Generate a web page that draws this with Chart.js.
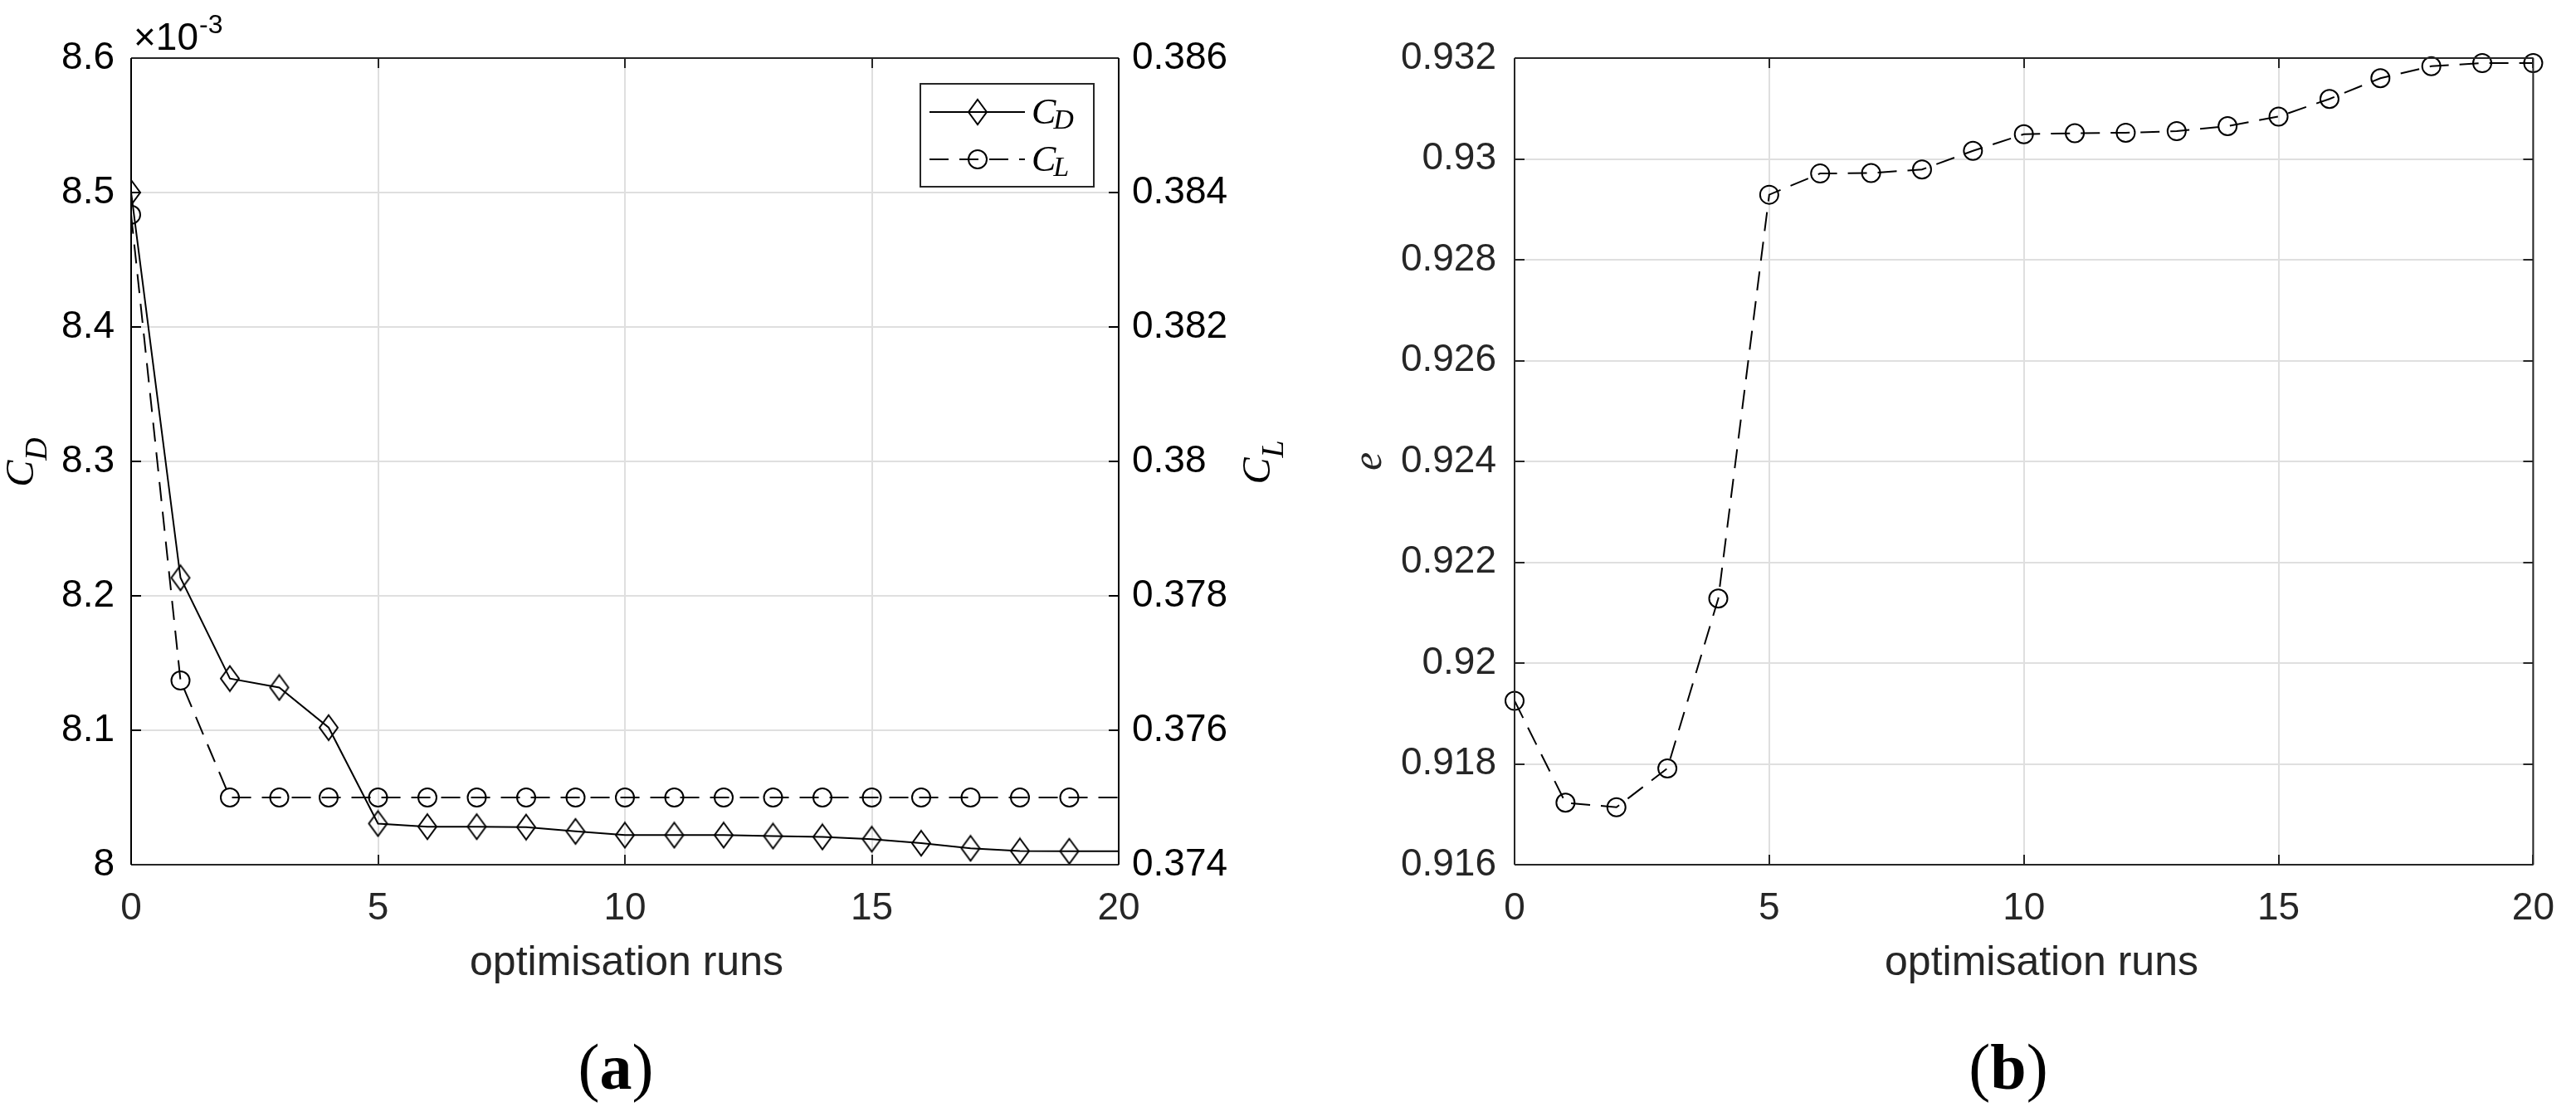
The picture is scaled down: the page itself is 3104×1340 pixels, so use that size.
<!DOCTYPE html>
<html><head><meta charset="utf-8">
<script src="https://cdn.jsdelivr.net/npm/chart.js@4.4.1/dist/chart.umd.min.js"></script>
<style>
html,body{margin:0;padding:0;background:#fff;}
#wrap{position:relative;width:3104px;height:1340px;overflow:hidden;background:#fff}
#left{position:absolute;left:0;top:0;width:1560px;height:1340px}
#right{position:absolute;left:1560px;top:0;width:1544px;height:1340px}
canvas{display:block}
</style></head><body>
<div id="wrap"><div id="left"><canvas id="cA" width="1560" height="1340" style="width:1560px;height:1340px"></canvas></div><div id="right"><canvas id="cB" width="1544" height="1340" style="width:1544px;height:1340px"></canvas></div></div>
<script>
// ---------------- DATA ----------------
const runs = [0,1,2,3,4,5,6,7,8,9,10,11,12,13,14,15,16,17,18,19,20];
// C_D in units of 1e-3
const cdValues = [8.5,8.2134,8.1385,8.1318,8.102,8.0306,8.0283,8.0283,8.028,8.0248,8.022,8.022,8.022,8.0213,8.0207,8.019,8.016,8.0122,8.0102,8.0100,8.0100];
const clValues = [0.38367,0.37674,0.375,0.375,0.375,0.375,0.375,0.375,0.375,0.375,0.375,0.375,0.375,0.375,0.375,0.375,0.375,0.375,0.375,0.375,0.375];
const eValues = [0.91925,0.91723,0.91714,0.91791,0.92128,0.92929,0.92971,0.92972,0.92979,0.93016,0.93049,0.93051,0.93052,0.93055,0.93065,0.93084,0.93119,0.93160,0.93184,0.93190,0.93190];
const markedRunsA = 20; // markers on runs 0..19 in panel (a)

const xTicks = [0,5,10,15,20];
const xTickLabels = ['0','5','10','15','20'];
const cdTicks = [8,8.1,8.2,8.3,8.4,8.5,8.6];
const cdTickLabels = ['8','8.1','8.2','8.3','8.4','8.5','8.6'];
const clTicks = [0.374,0.376,0.378,0.38,0.382,0.384,0.386];
const clTickLabels = ['0.374','0.376','0.378','0.38','0.382','0.384','0.386'];
const eTicks = [0.916,0.918,0.92,0.922,0.924,0.926,0.928,0.93,0.932];
const eTickLabels = ['0.916','0.918','0.92','0.922','0.924','0.926','0.928','0.93','0.932'];

// ---------------- STYLE ----------------
const SANS = '"Liberation Sans", Arial, Helvetica, sans-serif';
const SERIF = '"Liberation Serif", "Times New Roman", serif';
const AX = '#262626';
const GRID = '#dfdfdf';
const DASH = [23,13];

function makeDiamond(w, h, lw) {
  const c = document.createElement('canvas'); c.width = w; c.height = h;
  const g = c.getContext('2d');
  g.strokeStyle = '#000'; g.lineWidth = lw; g.lineJoin = 'miter';
  g.beginPath(); g.moveTo(w/2, lw); g.lineTo(w-lw, h/2); g.lineTo(w/2, h-lw); g.lineTo(lw, h/2); g.closePath(); g.stroke();
  return c;
}
const diamond = makeDiamond(26, 34, 2);

function pts(xs, ys) { return xs.map((x,i)=>({x:x, y:ys[i]})); }

function drawRich(ctx, parts, x, y) {
  let total = 0;
  parts.forEach(p => { ctx.font = p.font; p.w = ctx.measureText(p.t).width; total += p.w; });
  let cx = x - total/2;
  ctx.textAlign = 'left'; ctx.textBaseline = 'alphabetic';
  parts.forEach(p => { ctx.font = p.font; ctx.fillStyle = p.color || ctx.fillStyle; ctx.fillText(p.t, cx, y + (p.dy||0)); cx += p.w; });
}

const boxPlugin = {
  id: 'box',
  afterDatasetsDraw(chart, args, o) {
    const {ctx, chartArea: a, scales} = chart;
    const tl = 12;
    ctx.save();
    ctx.lineWidth = 2; ctx.setLineDash([]);
    const seg = (x1,y1,x2,y2,c) => { ctx.strokeStyle = c; ctx.beginPath(); ctx.moveTo(x1,y1); ctx.lineTo(x2,y2); ctx.stroke(); };
    scales.x.ticks.forEach(t => { const p = Math.round(scales.x.getPixelForValue(t.value));
      seg(p, a.bottom, p, a.bottom - tl, o.xColor); seg(p, a.top, p, a.top + tl, o.xColor); });
    const ry = scales.y1 || scales.y;
    scales.y.ticks.forEach(t => { const p = Math.round(scales.y.getPixelForValue(t.value)); seg(a.left, p, a.left + tl, p, o.yColor); });
    ry.ticks.forEach(t => { const p = Math.round(ry.getPixelForValue(t.value)); seg(a.right, p, a.right - tl, p, o.y1Color); });
    seg(a.left, a.bottom, a.right, a.bottom, o.xColor);
    seg(a.left, a.top, a.right, a.top, o.xColor);
    seg(a.left, a.top, a.left, a.bottom, o.yColor);
    seg(a.right, a.top, a.right, a.bottom, o.y1Color);
    ctx.restore();
  }
};

function fixedTicks(vals) { return s => { s.ticks = vals.map(v => ({value: v})); }; }

// ---------------- PANEL (a) ----------------
const textA = {
  id: 'textA',
  afterDraw(chart) {
    const ctx = chart.ctx, a = chart.chartArea;
    ctx.save();
    // legend
    const lx = a.right - 30 - 209, ly = a.top + 31, lw = 209, lh = 124;
    ctx.fillStyle = '#fff'; ctx.fillRect(lx, ly, lw, lh);
    ctx.strokeStyle = AX; ctx.lineWidth = 2; ctx.strokeRect(lx, ly, lw, lh);
    const r1 = ly + 34, r2 = ly + 91, s0 = lx + 11, s1 = lx + 126, sm = lx + 69;
    ctx.strokeStyle = '#000'; ctx.lineWidth = 2;
    ctx.beginPath(); ctx.moveTo(s0, r1); ctx.lineTo(s1, r1); ctx.stroke();
    ctx.drawImage(diamond, sm - 13, r1 - 17);
    ctx.setLineDash(DASH);
    ctx.beginPath(); ctx.moveTo(s0, r2); ctx.lineTo(s1, r2); ctx.stroke();
    ctx.setLineDash([]);
    ctx.beginPath(); ctx.arc(sm, r2, 11, 0, Math.PI*2); ctx.stroke();
    ctx.fillStyle = '#000';
    ctx.textAlign = 'left'; ctx.textBaseline = 'alphabetic';
    ctx.font = 'italic 44px ' + SERIF; ctx.fillText('C', lx + 134, r1 + 14);
    let wc = ctx.measureText('C').width;
    ctx.font = 'italic 34px ' + SERIF; ctx.fillText('D', lx + 134 + wc - 3, r1 + 20);
    ctx.font = 'italic 44px ' + SERIF; ctx.fillText('C', lx + 134, r2 + 14);
    ctx.font = 'italic 34px ' + SERIF; ctx.fillText('L', lx + 134 + wc - 3, r2 + 20);
    // exponent
    ctx.fillStyle = '#000';
    ctx.font = '46px ' + SANS; ctx.fillText('\u00d710', a.left + 3, a.top - 10);
    const w10 = ctx.measureText('\u00d710').width;
    ctx.font = '32px ' + SANS; ctx.fillText('-3', a.left + 3 + w10 + 1, a.top - 30);
    // y titles
    ctx.save(); ctx.translate(40, (a.top + a.bottom)/2 + 1); ctx.rotate(-Math.PI/2);
    ctx.fillStyle = '#000';
    drawRich(ctx, [{t:'C', font:'italic 48px ' + SERIF}, {t:'D', font:'italic 38px ' + SERIF, dy:16}], 0, 0);
    ctx.restore();
    ctx.save(); ctx.translate(a.right + 182, (a.top + a.bottom)/2 + 1); ctx.rotate(-Math.PI/2);
    ctx.fillStyle = '#000';
    drawRich(ctx, [{t:'C', font:'italic 48px ' + SERIF}, {t:'L', font:'italic 38px ' + SERIF, dy:16}], 0, 0);
    ctx.restore();
    // x title
    ctx.fillStyle = AX; ctx.font = '50px ' + SANS; ctx.textAlign = 'center';
    ctx.fillText('optimisation runs', 755, 1175);
    ctx.fillStyle = '#000';
    drawRich(ctx, [{t:'(', font:'78px ' + SERIF}, {t:'a', font:'bold 78px ' + SERIF}, {t:')', font:'78px ' + SERIF}], 742, 1312);
    ctx.restore();
  }
};

new Chart(document.getElementById('cA'), {
  type: 'line',
  data: { datasets: [
    { label: 'C_D', data: pts(runs, cdValues), yAxisID: 'y', borderColor: '#000', borderWidth: 2,
      pointStyle: diamond, pointRadius: c => c.dataIndex < markedRunsA ? 12 : 0, pointBorderColor: '#000', pointBackgroundColor: 'rgba(0,0,0,0)' },
    { label: 'C_L', data: pts(runs, clValues), yAxisID: 'y1', borderColor: '#000', borderWidth: 2, borderDash: DASH,
      pointStyle: 'circle', pointRadius: c => c.dataIndex < markedRunsA ? 11 : 0, pointBorderWidth: 2, pointBorderColor: '#000', pointBackgroundColor: 'rgba(0,0,0,0)' }
  ]},
  options: {
    responsive: false, animation: false, devicePixelRatio: 1,
    layout: { padding: { top: 70, bottom: 198, left: 0, right: 0 } },
    plugins: { legend: { display: false }, tooltip: { enabled: false }, box: { xColor: AX, yColor: '#000', y1Color: '#000' } },
    elements: { line: { tension: 0 } },
    scales: {
      x: { type: 'linear', min: 0, max: 20, afterBuildTicks: fixedTicks(xTicks), afterFit: s => { s.height = 100; },
           ticks: { autoSkip: false, maxRotation: 0, padding: 26, color: AX, font: { family: SANS, size: 46 }, callback: (v,i) => xTickLabels[i] },
           grid: { color: GRID, lineWidth: 2, drawTicks: false }, border: { display: false } },
      y: { type: 'linear', position: 'left', min: 8, max: 8.6, afterBuildTicks: fixedTicks(cdTicks), afterFit: s => { s.width = 158; },
           ticks: { autoSkip: false, padding: 20, color: '#000', font: { family: SANS, size: 46 }, callback: (v,i) => cdTickLabels[i] },
           grid: { color: GRID, lineWidth: 2, drawTicks: false }, border: { display: false } },
      y1: { type: 'linear', position: 'right', min: 0.374, max: 0.386, afterBuildTicks: fixedTicks(clTicks), afterFit: s => { s.width = 212; },
           ticks: { autoSkip: false, padding: 16, color: '#000', font: { family: SANS, size: 46 }, callback: (v,i) => clTickLabels[i] },
           grid: { drawOnChartArea: false, drawTicks: false }, border: { display: false } }
    }
  },
  plugins: [boxPlugin, textA]
});

// ---------------- PANEL (b) ----------------
const textB = {
  id: 'textB',
  afterDraw(chart) {
    const ctx = chart.ctx, a = chart.chartArea;
    ctx.save();
    ctx.save(); ctx.translate(104, (a.top + a.bottom)/2); ctx.rotate(-Math.PI/2);
    ctx.fillStyle = AX;
    drawRich(ctx, [{t:'e', font:'italic 50px ' + SERIF}], 0, 0);
    ctx.restore();
    ctx.fillStyle = AX; ctx.font = '50px ' + SANS; ctx.textAlign = 'center'; ctx.textBaseline = 'alphabetic';
    ctx.fillText('optimisation runs', 900, 1175);
    ctx.fillStyle = '#000';
    drawRich(ctx, [{t:'(', font:'78px ' + SERIF}, {t:'b', font:'bold 78px ' + SERIF}, {t:')', font:'78px ' + SERIF}], 860, 1312);
    ctx.restore();
  }
};

new Chart(document.getElementById('cB'), {
  type: 'line',
  data: { datasets: [
    { label: 'e', data: pts(runs, eValues), yAxisID: 'y', borderColor: '#000', borderWidth: 2, borderDash: DASH, clip: false,
      pointStyle: 'circle', pointRadius: 11, pointBorderWidth: 2, pointBorderColor: '#000', pointBackgroundColor: 'rgba(0,0,0,0)' }
  ]},
  options: {
    responsive: false, animation: false, devicePixelRatio: 1,
    layout: { padding: { top: 70, bottom: 198, left: 0, right: 35 } },
    plugins: { legend: { display: false }, tooltip: { enabled: false }, box: { xColor: AX, yColor: AX, y1Color: AX } },
    elements: { line: { tension: 0 } },
    scales: {
      x: { type: 'linear', min: 0, max: 20, afterBuildTicks: fixedTicks(xTicks), afterFit: s => { s.height = 100; },
           ticks: { autoSkip: false, maxRotation: 0, padding: 26, color: AX, font: { family: SANS, size: 46 }, callback: (v,i) => xTickLabels[i] },
           grid: { color: GRID, lineWidth: 2, drawTicks: false }, border: { display: false } },
      y: { type: 'linear', position: 'left', min: 0.916, max: 0.932, afterBuildTicks: fixedTicks(eTicks), afterFit: s => { s.width = 265; },
           ticks: { autoSkip: false, padding: 22, color: AX, font: { family: SANS, size: 46 }, callback: (v,i) => eTickLabels[i] },
           grid: { color: GRID, lineWidth: 2, drawTicks: false }, border: { display: false } }
    }
  },
  plugins: [boxPlugin, textB]
});
</script>
</body></html>
